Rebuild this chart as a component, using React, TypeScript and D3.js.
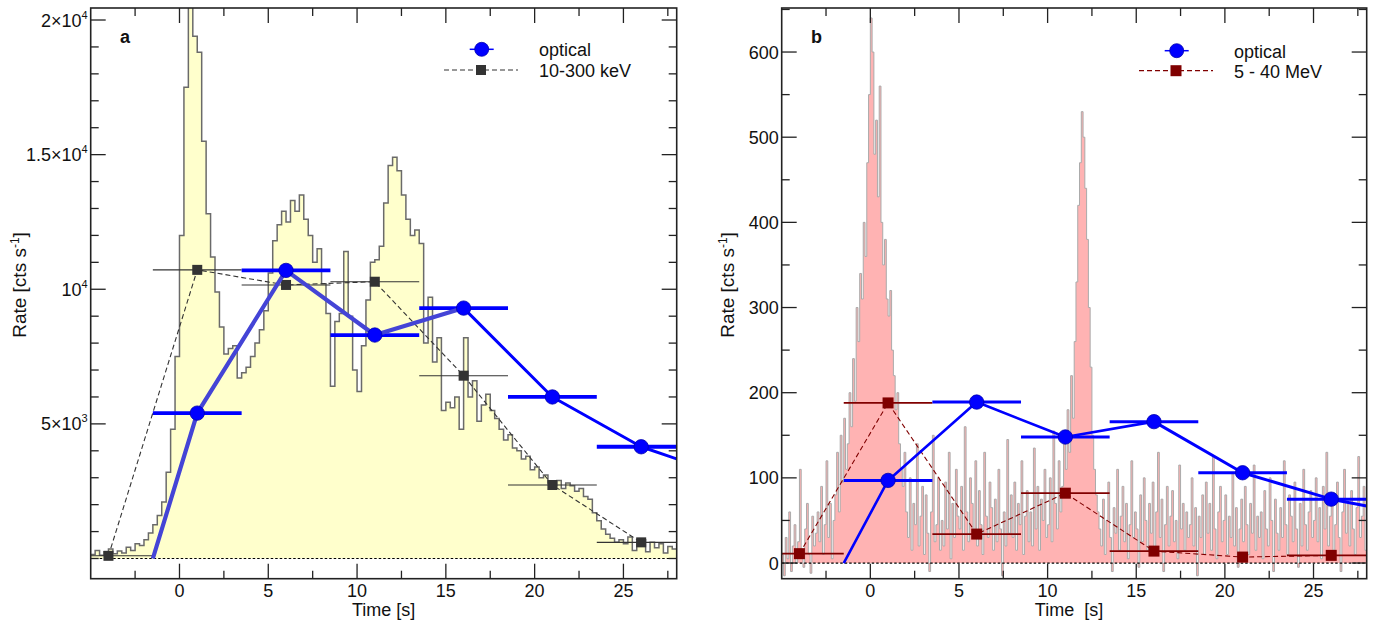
import React from 'react';
import * as d3 from 'd3';

// ---------- DATA ----------
const BIN_START = -5;
const BIN_WIDTH_A = 0.25;
const BIN_WIDTH_B = 0.1;

// 10-300 keV light curve (counts/s), 0.25 s bins from -5 s
const rateA = [
  150, 300, 120, 250,
  350, 180, 280, 200,
  420, 300, 550, 480,
  700, 950, 1250, 1600,
  2100, 3200, 4800, 7500,
  12000, 17500, 20500, 19400,
  18800, 15500, 12800, 11200,
  9900, 8600, 7600, 7800,
  7900, 6700, 6900, 7100,
  7500, 8000, 8500, 9200,
  10600, 11800, 12400, 12900,
  12500, 13300, 12900, 13500,
  12600, 12000, 11000, 11500,
  10200, 9100, 6400, 8800,
  9100, 11400, 9000, 7000,
  6200, 7900, 9600, 11000,
  11100, 11600, 13200, 14600,
  14900, 14400, 13500, 12600,
  12000, 12200, 11700, 8000,
  9700, 7300, 8200, 5500,
  5800, 5600, 6000, 4800,
  8200, 6000, 6600, 5100,
  5700, 6100, 5500, 5200,
  4800, 4400, 4600, 4100,
  4000, 3700, 3800, 3300,
  3400, 3000, 3100, 2800,
  2700, 2900, 2600, 2800,
  2700, 2500, 2600, 2300,
  2200, 1700, 1400, 1100,
  900, 750, 600, 700,
  550, 800, 300, 650,
  700, 250, 600, 400,
  550, 200, 450, 350,
];

// 5-40 MeV light curve (counts/s), 0.1 s bins from -5 s
const rateB = [
  10, -15, 30, 5, 60, -10, 20, 45, 0, 25,
  110, 15, -5, 40, 70, 10, -12, 55, 20, 35,
  60, 25, 90, 10, 45, 120, 30, 70, 5, 50,
  80, 130, 60, 150, 95, 170, 110, 140, 200, 160,
  240, 190, 300, 260, 340, 310, 400, 360, 470, 550,
  640, 600, 480, 520, 430, 560, 400, 350, 380, 310,
  290, 320, 250, 220, 180, 200, 140, 110, 90, 130,
  60, 30, 100, 15, 70, 45, 140, 20, 55, 90,
  10, 80, 35, -10, 60, 150, 25, 45, 100, 15,
  50, 20, 95, 40, 130, 5, 70, 30, 110, 55,
  40, 90, 15, 160, 60, 25, 100, 70, 35, 120,
  20, 85, 45, 10, 130, 55, 30, 95, 65, 15,
  75, 25, 110, 40, -15, 60, 20, 145, 35, 80,
  30, 95, 15, 70, 45, 120, 10, 55, 85, 25,
  60, 20, 135, 40, 90, 15, 75, 50, 110, 30,
  45, 100, 25, 155, 70, 40, 120, 60, 90, 140,
  110, 180, 130, 220, 170, 260, 330, 420, 470, 530,
  500, 440, 380, 300, 230, 150, 110, 80, 60, 40,
  20, 75, 10, 50, 95, 30, -10, 65, 35, 110,
  15, 55, 90, 25, 70, 5, 45, 120, 30, 60,
  40, -5, 80, 25, 100, 50, 15, 70, 35, 95,
  10, 60, 130, 30, 75, -10, 45, 90, 20, 55,
  85, 25, 50, 5, 115, 40, 70, 15, 60, 30,
  45, 100, 20, 65, -15, 55, 30, 80, 10, 95,
  35, 70, 15, 125, 40, 5, 60, 90, 25, 50,
  80, 10, 55, 30, 105, 20, 65, -5, 40, 75,
  25, 90, 45, 10, 70, 35, 115, 15, 55, 30,
  60, 5, 85, 40, 20, 100, 50, -10, 75, 35,
  15, 65, 30, 120, 45, 10, 80, 55, 25, 95,
  40, -5, 70, 20, 110, 45, 15, 60, 85, 30,
  50, 100, 25, 65, 5, 90, 40, 130, 20, 55,
  75, 15, 45, 95, 30, -10, 60, 110, 35, 70,
  20, 85, 40, 10, 65, 125, 30, 55, 90, 15,
];

const opticalTimes = [1, 6, 11, 16, 21, 26];
const opticalA = [5400, 10700, 8300, 9300, 6000, 4150];
const opticalB = [97, 189, 148, 166, 106, 75];
const opticalStartT = -1.5;
const opticalStartV = 0;
const opticalEndT = 28;
const opticalEndA = 3700;
const opticalEndB = 67;

const gammaTimes = [-4, 1, 6, 11, 16, 21, 26];
const gammaA = [100, 10720, 10160, 10280, 6790, 2730, 600];
const gammaB = [11, 188, 34, 82, 14, 7, 9];
const gammaXerrA = [2.5, 2.5, 2.5, 2.5, 2.5, 2.5, 2.5];
const gammaXerrB = [2.5, 2.5, 2.5, 2.5, 2.5, 0, 2.5];
const opticalXerr = 2.5;

const xMajorTicks = [0, 5, 10, 15, 20, 25];
const xMinorTicks = [-2.5, 2.5, 7.5, 12.5, 17.5, 22.5, 27.5];
const yMajorA = [5000, 10000, 15000, 20000];
const yLabelsA: [string, string][] = [['5×10', '3'], ['10', '4'], ['1.5×10', '4'], ['2×10', '4']];
const yMajorB = [0, 100, 200, 300, 400, 500, 600];

const FONT = "'Liberation Sans', Arial, Helvetica, sans-serif";

type PanelProps = {
  id: string;
  left: number; right: number; top: number; bottom: number;
  yDomain: [number, number];
  rate: number[];
  binWidth: number;
  fill: string; outline: string; outlineWidth: number;
  optical: number[]; opticalEnd: number;
  opticalColor1: string; opticalWidth1: number; splitIndex: number;
  opticalErrWidth: number;
  gamma: number[]; gammaXerr: number[];
  gammaColor: string; gammaErrWidth: number; gammaSize: number;
  yMajor: number[]; yMinorStep: number; yMinorMax: number;
  yLabel: (v: number, i: number) => React.ReactNode;
  panelLetter: string; letterX: number;
  legendCircleX: number; legendCircleY: number; legendTextX: number;
  legendLine: [number, number, number];
  gammaLabel: string;
  timeLabel: string; timeLabelX: number;
  rateLabelX: number;
};

function Panel(p: PanelProps) {
  const x = d3.scaleLinear().domain([-5, 28]).range([p.left, p.right]);
  const y = d3.scaleLinear().domain(p.yDomain).range([p.bottom, p.top]);

  const histPts: [number, number][] = p.rate.map((v, i) => [BIN_START + i * p.binWidth, v]);
  histPts.push([BIN_START + p.rate.length * p.binWidth, p.rate[p.rate.length - 1]]);
  const area = d3.area<[number, number]>()
    .x(d => x(d[0])).y0(y(0)).y1(d => y(d[1])).curve(d3.curveStepAfter);
  const line = d3.line<[number, number]>()
    .x(d => x(d[0])).y(d => y(d[1])).curve(d3.curveStepAfter);

  const optPts: [number, number][] = [[opticalStartT, opticalStartV],
    ...opticalTimes.map((t, i) => [t, p.optical[i]] as [number, number]),
    [opticalEndT, p.opticalEnd]];
  const lin = d3.line<[number, number]>().x(d => x(d[0])).y(d => y(d[1]));
  const optPart1 = optPts.slice(0, p.splitIndex + 1);
  const optPart2 = optPts.slice(p.splitIndex);

  const gPts: [number, number][] = gammaTimes.map((t, i) => [t, p.gamma[i]]);

  const yMinor = d3.range(0, p.yMinorMax + 1, p.yMinorStep).filter(v => !p.yMajor.includes(v));
  const clipId = 'clip-' + p.id;
  const axisColor = '#222';

  return (
    <g>
      <defs>
        <clipPath id={clipId}>
          <rect x={p.left} y={p.top} width={p.right - p.left} height={p.bottom - p.top} />
        </clipPath>
      </defs>
      <g clipPath={`url(#${clipId})`}>
        <path d={area(histPts) || ''} fill={p.fill} stroke="none" />
        <path d={line(histPts) || ''} fill="none" stroke={p.outline} strokeWidth={p.outlineWidth} />
        <line x1={p.left} x2={p.right} y1={y(0)} y2={y(0)} stroke="#000" strokeWidth={1.2} strokeDasharray="2.5,2" />
        {gPts.map((d, i) => p.gammaXerr[i] > 0 ? (
          <line key={'ge' + i} x1={x(d[0] - p.gammaXerr[i])} x2={x(d[0] + p.gammaXerr[i])} y1={y(d[1])} y2={y(d[1])}
            stroke={p.gammaColor} strokeWidth={p.gammaErrWidth} />
        ) : null)}
        <path d={lin(gPts) || ''} fill="none" stroke={p.gammaColor} strokeWidth={1.1} strokeDasharray="5,3" />
        {gPts.map((d, i) => (
          <rect key={'gs' + i} x={x(d[0]) - p.gammaSize / 2} y={y(d[1]) - p.gammaSize / 2}
            width={p.gammaSize} height={p.gammaSize} fill={p.gammaColor} />
        ))}
        {opticalTimes.map((t, i) => (
          <line key={'oe' + i} x1={x(t - opticalXerr)} x2={x(t + opticalXerr)} y1={y(p.optical[i])} y2={y(p.optical[i])}
            stroke="#0000ff" strokeWidth={p.opticalErrWidth} />
        ))}
        <path d={lin(optPart1) || ''} fill="none" stroke={p.opticalColor1} strokeWidth={p.opticalWidth1} strokeLinejoin="round" />
        <path d={lin(optPart2) || ''} fill="none" stroke="#0000ff" strokeWidth={3} strokeLinejoin="round" />
        {opticalTimes.map((t, i) => (
          <circle key={'oc' + i} cx={x(t)} cy={y(p.optical[i])} r={7.2} fill="#0000ff" stroke="#0000b0" strokeWidth={0.8} />
        ))}
      </g>

      <rect x={p.left} y={p.top} width={p.right - p.left} height={p.bottom - p.top} fill="none" stroke={axisColor} strokeWidth={1.6} />

      {xMajorTicks.map(t => (
        <g key={'xt' + t}>
          <line x1={x(t)} x2={x(t)} y1={p.bottom} y2={p.bottom - 15} stroke={axisColor} strokeWidth={1.3} />
          <line x1={x(t)} x2={x(t)} y1={p.top} y2={p.top + 15} stroke={axisColor} strokeWidth={1.3} />
          <text x={x(t)} y={p.bottom + 18.5} textAnchor="middle" fontSize={18} fontFamily={FONT} fill="#111">{t}</text>
        </g>
      ))}
      {xMinorTicks.map(t => (
        <g key={'xm' + t}>
          <line x1={x(t)} x2={x(t)} y1={p.bottom} y2={p.bottom - 8} stroke={axisColor} strokeWidth={1.3} />
          <line x1={x(t)} x2={x(t)} y1={p.top} y2={p.top + 8} stroke={axisColor} strokeWidth={1.3} />
        </g>
      ))}
      {p.yMajor.map((v, i) => (
        <g key={'yt' + v}>
          <line x1={p.left} x2={p.left + 15} y1={y(v)} y2={y(v)} stroke={axisColor} strokeWidth={1.3} />
          <line x1={p.right} x2={p.right - 15} y1={y(v)} y2={y(v)} stroke={axisColor} strokeWidth={1.3} />
          <text x={p.left - 3} y={y(v) + 6.5} textAnchor="end" fontSize={18} fontFamily={FONT} fill="#111">{p.yLabel(v, i)}</text>
        </g>
      ))}
      {yMinor.map(v => (
        <g key={'ym' + v}>
          <line x1={p.left} x2={p.left + 8} y1={y(v)} y2={y(v)} stroke={axisColor} strokeWidth={1.3} />
          <line x1={p.right} x2={p.right - 8} y1={y(v)} y2={y(v)} stroke={axisColor} strokeWidth={1.3} />
        </g>
      ))}

      <text x={p.letterX} y={43} fontSize={18} fontWeight="bold" fontFamily={FONT} fill="#111">{p.panelLetter}</text>
      <text x={p.timeLabelX} y={616} textAnchor="middle" fontSize={18} fontFamily={FONT} fill="#111" style={{ whiteSpace: 'pre' }}>{p.timeLabel}</text>
      <text transform={`translate(${p.rateLabelX},${285}) rotate(-90)`} textAnchor="middle" fontSize={19} fontFamily={FONT} fill="#111">
        <tspan>Rate [cts s</tspan><tspan dy={-7} fontSize={12}>-1</tspan><tspan dy={7}>]</tspan>
      </text>

      <line x1={p.legendCircleX - 12} x2={p.legendCircleX + 12} y1={p.legendCircleY} y2={p.legendCircleY} stroke="#0000ff" strokeWidth={1.5} />
      <circle cx={p.legendCircleX} cy={p.legendCircleY} r={7} fill="#0000ff" stroke="#0000b0" strokeWidth={0.8} />
      <line x1={p.legendLine[0]} x2={p.legendLine[1]} y1={p.legendLine[2]} y2={p.legendLine[2]} stroke={p.gammaColor} strokeWidth={1.2} strokeDasharray="5,3" />
      <rect x={(p.legendLine[0] + p.legendLine[1]) / 2 - p.gammaSize / 2} y={p.legendLine[2] - p.gammaSize / 2}
        width={p.gammaSize} height={p.gammaSize} fill={p.gammaColor} />
      <text x={p.legendTextX} y={p.legendCircleY + 7} fontSize={18} fontFamily={FONT} fill="#111">optical</text>
      <text x={p.legendTextX} y={p.legendLine[2] + 7} fontSize={18} fontFamily={FONT} fill="#111">{p.gammaLabel}</text>
    </g>
  );
}

export default function App() {
  return (
    <svg width={1375} height={629} style={{ position: 'absolute', left: 0, top: 0, background: '#fff' }}>
      <rect x={0} y={0} width={1375} height={629} fill="#fff" />
      <Panel
        id="a" left={90.7} right={676.7} top={8} bottom={578.7}
        yDomain={[-750, 20446]}
        rate={rateA} binWidth={BIN_WIDTH_A}
        fill="#ffffcc" outline="#6a6a6a" outlineWidth={1.5}
        optical={opticalA} opticalEnd={opticalEndA}
        opticalColor1="#4444d6" opticalWidth1={4.2} splitIndex={4}
        opticalErrWidth={3.8}
        gamma={gammaA} gammaXerr={gammaXerrA}
        gammaColor="#333333" gammaErrWidth={1.1} gammaSize={10}
        yMajor={yMajorA} yMinorStep={1000} yMinorMax={20000}
        yLabel={(v, i) => [<tspan key="m">{yLabelsA[i][0]}</tspan>, <tspan key="s" dy={-8} fontSize={11}>{yLabelsA[i][1]}</tspan>]}
        panelLetter="a" letterX={120}
        legendCircleX={481.7} legendCircleY={49.3} legendTextX={539}
        legendLine={[444, 518, 70]}
        gammaLabel="10-300 keV"
        timeLabel="Time [s]" timeLabelX={383.7}
        rateLabelX={26}
      />
      <Panel
        id="b" left={781.7} right={1366.7} top={8} bottom={578.7}
        yDomain={[-18.4, 651.7]}
        rate={rateB} binWidth={BIN_WIDTH_B}
        fill="#ffb3b3" outline="#aaaaaa" outlineWidth={1}
        optical={opticalB} opticalEnd={opticalEndB}
        opticalColor1="#0000ff" opticalWidth1={2.6} splitIndex={4}
        opticalErrWidth={3}
        gamma={gammaB} gammaXerr={gammaXerrB}
        gammaColor="#800000" gammaErrWidth={1.8} gammaSize={11}
        yMajor={yMajorB} yMinorStep={50} yMinorMax={650}
        yLabel={(v) => String(v)}
        panelLetter="b" letterX={811}
        legendCircleX={1176.7} legendCircleY={50.7} legendTextX={1234}
        legendLine={[1139, 1213, 70.7]}
        gammaLabel="5 - 40 MeV"
        timeLabel="Time  [s]" timeLabelX={1069}
        rateLabelX={734}
      />
    </svg>
  );
}
